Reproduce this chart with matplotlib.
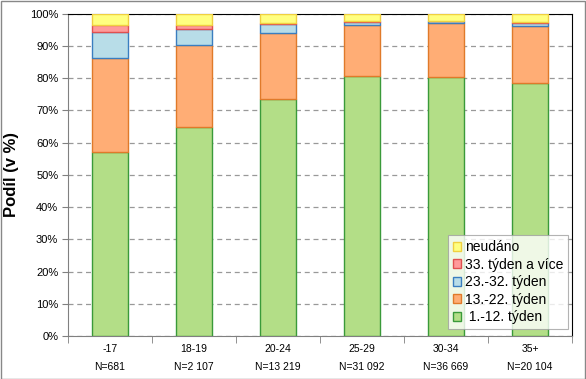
import matplotlib.pyplot as plt
import numpy as np
from matplotlib.patches import Rectangle

plt.rcParams['font.family'] = ['Liberation Sans', 'DejaVu Sans']

groups = ['-17', '18-19', '20-24', '25-29', '30-34', '35+']
counts = ['N=681', 'N=2 107', 'N=13 219', 'N=31 092', 'N=36 669', 'N=20 104']

# shares in %
wk_1_12 = [57.1, 64.9, 73.7, 80.6, 80.3, 78.4]
wk_13_22 = [29.1, 25.3, 20.2, 15.9, 16.7, 17.9]
wk_23_32 = [8.3, 5.1, 2.9, 1.1, 0.7, 1.0]
wk_33 = [1.9, 1.3, 0.5, 0.3, 0.2, 0.3]
unknown = [3.6, 3.4, 2.7, 2.1, 2.1, 2.4]

series = [
    (' 1.-12. týden', wk_1_12, '#b3de87', '#3a9a3a'),
    ('13.-22. týden', wk_13_22, '#ffad75', '#e07a2a'),
    ('23.-32. týden', wk_23_32, '#b8dde8', '#3a7ec0'),
    ('33. týden a více', wk_33, '#ff9a9a', '#e05050'),
    ('neudáno', unknown, '#ffff80', '#f0d040'),
]

fig = plt.figure(figsize=(5.86, 3.79), dpi=100)
ax = fig.add_axes([0.116, 0.1135, 0.86, 0.85])

x = np.arange(len(groups))
bottom = np.zeros(len(groups))
handles = []
for name, vals, fc, ec in series:
    h = ax.bar(x, vals, 0.42, bottom=bottom, color=fc, edgecolor=ec,
               linewidth=1, label=name, zorder=3)
    handles.append(h)
    bottom += np.array(vals)

ax.set_xlim(-0.5, len(groups) - 0.5)
ax.set_ylim(0, 100)
ax.set_yticks(np.arange(0, 101, 10))
ax.set_yticklabels([f'{v}%' for v in range(0, 101, 10)], fontsize=8)
ax.yaxis.grid(True, color='#999999', linestyle=(0, (4, 3)), linewidth=0.9, zorder=0)
ax.set_axisbelow(True)

ax.set_xticks(x)
ax.set_xticklabels([f'{g}\n{n}' for g, n in zip(groups, counts)],
                   fontsize=7.5, linespacing=1.9)
ax.tick_params(axis='x', length=0, pad=6)
ax.set_xticks(np.arange(-0.5, len(groups)), minor=True)
ax.tick_params(axis='x', which='minor', length=5, color='#808080')
ax.tick_params(axis='y', length=4, color='#808080', pad=3)

ax.set_ylabel('Podíl (v %)', fontsize=12, fontweight='bold', labelpad=8)

for s in ['left', 'bottom']:
    ax.spines[s].set_color('#808080')
for s in ['top', 'right']:
    ax.spines[s].set_color('black')

leg = ax.legend(handles[::-1], [s[0] for s in series][::-1], loc='lower right',
                bbox_to_anchor=(0.993, 0.022), fontsize=10, frameon=True,
                fancybox=False, edgecolor='#a0a0a0', handlelength=0.6,
                handleheight=0.6, handletextpad=0.3, labelspacing=0.25,
                borderpad=0.35, borderaxespad=0)
leg.get_frame().set_linewidth(0.8)

fig.patches.append(Rectangle((0.001, 0.001), 0.997, 0.997, transform=fig.transFigure,
                             fill=False, edgecolor='#888888', linewidth=1))

fig.savefig('out.png', dpi=100)
